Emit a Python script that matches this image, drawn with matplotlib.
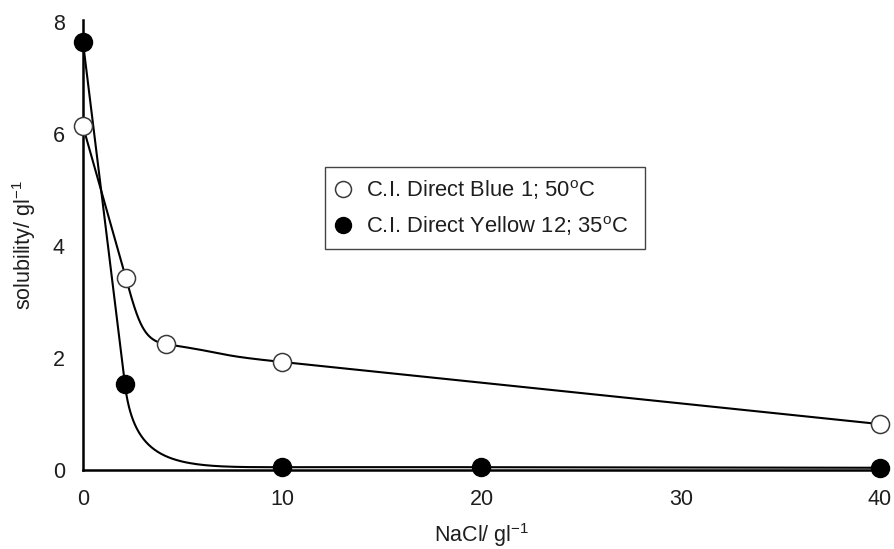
import numpy as np
import matplotlib
matplotlib.use("Agg")
import matplotlib.pyplot as plt
from matplotlib.lines import Line2D

plt.rcParams["font.family"] = ["Liberation Sans", "DejaVu Sans"]
plt.rcParams["mathtext.fontset"] = "custom"
plt.rcParams["mathtext.rm"] = "Liberation Sans"
plt.rcParams["mathtext.it"] = "Liberation Sans:italic"
plt.rcParams["mathtext.bf"] = "Liberation Sans:bold"

# NaCl concentration (g/l) and dye solubility (g/l)
nacl_blue = [0, 2.15, 4.15, 10, 40]
sol_blue = [6.14, 3.43, 2.25, 1.93, 0.82]
nacl_yellow = [0, 2.1, 10, 20, 40]
sol_yellow = [7.64, 1.54, 0.05, 0.05, 0.04]

label_blue = r"C.I. Direct Blue 1; 50$^{\mathrm{o}}$C"
label_yellow = r"C.I. Direct Yellow 12; 35$^{\mathrm{o}}$C"
x_ticks = [0, 10, 20, 30, 40]
y_ticks = [0, 2, 4, 6, 8]

TEXT = "#1e1e1e"
FS = 15.5
FS_LEG = 15.8

fig = plt.figure(figsize=(8.95, 5.49), dpi=100)
ax = fig.add_axes([83 / 895, 79 / 549, 797 / 895, 450 / 549])
ax.set_xlim(0, 40)
ax.set_ylim(0, 8.04)


def smooth_curve(xs, ys, ax, k=0.6, n=80):
    """Bezier smoothing in screen space: each knot's tangent follows the
    longer neighbouring chord; handles stop at the tangent-line crossing
    and stay inside each segment's bounding box."""
    bb = ax.get_window_extent()
    x0, x1 = ax.get_xlim()
    y0, y1 = ax.get_ylim()
    sx = bb.width / (x1 - x0)
    sy = bb.height / (y1 - y0)
    P = np.column_stack([np.asarray(xs, float) * sx, np.asarray(ys, float) * sy])
    d = np.diff(P, axis=0)
    L = np.hypot(d[:, 0], d[:, 1])
    U = d / L[:, None]
    T = np.zeros_like(P)
    T[0] = U[0]
    T[-1] = U[-1]
    for i in range(1, len(P) - 1):
        T[i] = U[i - 1] if L[i - 1] >= L[i] else U[i]

    def clamp(p, t, lo, hi, h):
        for j in range(2):
            if abs(t[j]) > 1e-12:
                for bound in (lo[j], hi[j]):
                    s = (bound - p[j]) / t[j]
                    if s > 1e-9:
                        h = min(h, s)
        return h

    out = []
    tt = np.linspace(0, 1, n)
    for i in range(len(P) - 1):
        a, b = P[i], P[i + 1]
        ta, tb = T[i], -T[i + 1]
        lo = np.minimum(a, b)
        hi = np.maximum(a, b)
        h1 = h2 = k * L[i]
        # crossing of the two tangent lines: a + s*ta = b + r*tb
        M = np.column_stack([ta, -tb])
        if abs(np.linalg.det(M)) > 1e-6:
            s, r = np.linalg.solve(M, b - a)
            if s > 0 and r > 0:
                h1 = min(h1, s)
                h2 = min(h2, r)
        h1 = clamp(a, ta, lo, hi, h1)
        h2 = clamp(b, tb, lo, hi, h2)
        c1 = a + h1 * ta
        c2 = b + h2 * tb
        seg = ((1 - tt) ** 3)[:, None] * a + (3 * (1 - tt) ** 2 * tt)[:, None] * c1 \
            + (3 * (1 - tt) * tt ** 2)[:, None] * c2 + (tt ** 3)[:, None] * b
        out.append(seg if i == 0 else seg[1:])
    C = np.vstack(out)
    return C[:, 0] / sx, C[:, 1] / sy


cx, cy = smooth_curve(nacl_blue, sol_blue, ax)
ax.plot(cx, cy, color="black", lw=1.5, zorder=2, clip_on=False)
cx, cy = smooth_curve(nacl_yellow, sol_yellow, ax)
ax.plot(cx, cy, color="black", lw=1.5, zorder=2, clip_on=False)

ax.plot(nacl_blue, sol_blue, ls="none", marker="o", ms=13, mfc="white",
        mec="#3a3a3a", mew=1.1, zorder=4, clip_on=False)
ax.plot(nacl_yellow, sol_yellow, ls="none", marker="o", ms=13, mfc="black",
        mec="black", mew=1.0, zorder=4, clip_on=False)

for side in ("top", "right"):
    ax.spines[side].set_visible(False)
for side in ("left", "bottom"):
    ax.spines[side].set_linewidth(1.8)
    ax.spines[side].set_color("black")

ax.set_xticks(x_ticks)
ax.set_yticks(y_ticks)
ax.tick_params(axis="both", length=0, labelsize=FS, labelcolor=TEXT)
ax.tick_params(axis="x", pad=13.5)
ax.tick_params(axis="y", pad=13)

ax.set_xlabel(r"NaCl/ gl$^{\mathrm{-1}}$", fontsize=FS, color=TEXT)
ax.set_ylabel(r"solubility/ gl$^{\mathrm{-1}}$", fontsize=FS, color=TEXT)
ax.xaxis.set_label_coords(0.5, -(521 - 470) / 450)
ax.yaxis.set_label_coords((38 - 83) / 797, 0.5)

handles = [
    Line2D([], [], ls="none", marker="o", ms=11.5, mfc="white", mec="#3a3a3a", mew=1.1),
    Line2D([], [], ls="none", marker="o", ms=11.5, mfc="black", mec="black"),
]
leg = ax.legend(handles, [label_blue, label_yellow], loc="upper left",
                bbox_to_anchor=(325 / 895, (549 - 251) / 549, 320 / 895, 84 / 549),
                bbox_transform=fig.transFigure, mode="expand",
                borderaxespad=0, fontsize=FS_LEG, frameon=True, fancybox=False,
                framealpha=1, edgecolor="#444444", handlelength=0.68,
                handletextpad=0.69, borderpad=0.5, labelspacing=0.56)
leg.get_frame().set_linewidth(1.0)
for t in leg.get_texts():
    t.set_color(TEXT)

fig.savefig("out.png", dpi=100)
